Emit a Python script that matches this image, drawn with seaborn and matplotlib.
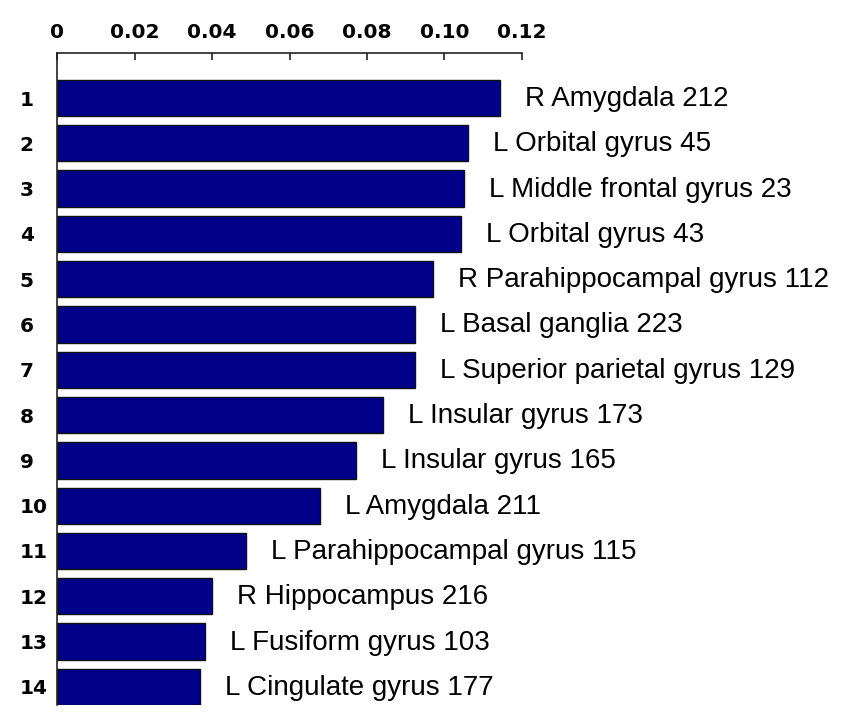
import matplotlib
matplotlib.use("Agg")
import matplotlib.pyplot as plt
import seaborn as sns
import pandas as pd

ranks = [str(i) for i in range(1, 15)]
regions = ["R Amygdala 212", "L Orbital gyrus 45", "L Middle frontal gyrus 23",
           "L Orbital gyrus 43", "R Parahippocampal gyrus 112", "L Basal ganglia 223",
           "L Superior parietal gyrus 129", "L Insular gyrus 173", "L Insular gyrus 165",
           "L Amygdala 211", "L Parahippocampal gyrus 115", "R Hippocampus 216",
           "L Fusiform gyrus 103", "L Cingulate gyrus 177"]
values = [0.1144, 0.1060, 0.1052, 0.1043, 0.0972, 0.0923, 0.0923,
          0.0842, 0.0772, 0.0679, 0.0487, 0.0399, 0.0382, 0.0370]
xticks = [0, 0.02, 0.04, 0.06, 0.08, 0.10, 0.12]
xticklabels = ["0", "0.02", "0.04", "0.06", "0.08", "0.10", "0.12"]

sns.set_style("white")
df = pd.DataFrame({"rank": ranks, "value": values, "region": regions})

fig = plt.figure(figsize=(8.5, 7.25), dpi=100)
ax = fig.add_axes([57.3 / 850, 1 - 705 / 725, (521.7 - 57.3) / 850, (705 - 53.3) / 725])

sns.barplot(data=df, x="value", y="rank", orient="h", color="#000088",
            saturation=1, width=0.8, edgecolor="#111111", linewidth=1.0, ax=ax)

ax.set_xlim(0, 0.12)
ax.set_ylim(13.40, -0.987)
ax.set_xlabel("")
ax.set_ylabel("")

for i, (v, name) in enumerate(zip(values, regions)):
    ax.annotate(name, xy=(v, i), xytext=(25, -8), textcoords="offset pixels",
                ha="left", va="baseline", fontsize=20, family="Liberation Sans",
                color="#000000")

ax.xaxis.tick_top()
ax.set_xticks(xticks)
ax.set_xticklabels(xticklabels, fontsize=14.5, fontweight="bold", family="DejaVu Sans",
                   color="#000000")
ax.tick_params(axis="x", direction="in", length=5, width=1.2, pad=8, color="#222222",
               top=True, bottom=False)
ax.tick_params(axis="y", length=0, pad=27)
for lab in ax.get_yticklabels():
    lab.set_fontsize(14.5)
    lab.set_fontweight("bold")
    lab.set_family("DejaVu Sans")
    lab.set_color("#000000")
    lab.set_horizontalalignment("left")

for s in ["right", "bottom"]:
    ax.spines[s].set_visible(False)
for s in ["left", "top"]:
    ax.spines[s].set_color("#222222")
    ax.spines[s].set_linewidth(1.2)

fig.savefig("out.png", dpi=100)
